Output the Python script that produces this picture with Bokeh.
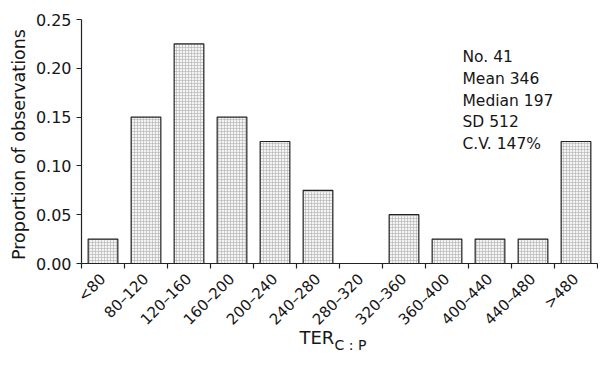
import math
from bokeh.plotting import figure
from bokeh.models import Range1d, FixedTicker, NumeralTickFormatter, Label, ColumnDataSource
from bokeh.embed import file_html
from bokeh.resources import INLINE

categories = ["<80", "80\u2013120", "120\u2013160", "160\u2013200", "200\u2013240", "240\u2013280",
              "280\u2013320", "320\u2013360", "360\u2013400", "400\u2013440", "440\u2013480", ">480"]
proportions = [0.025, 0.15, 0.225, 0.15, 0.125, 0.075, 0.0, 0.05, 0.025, 0.025, 0.025, 0.125]
y_ticks = [0.0, 0.05, 0.10, 0.15, 0.20, 0.25]
stats_lines = ["No. 41", "Mean 346", "Median 197", "SD 512", "C.V. 147%"]

FONT = "DejaVu Sans"
INK = "#161616"
AXIS = "#222222"

n = len(categories)
centers = [i + 0.5 for i in range(n)]
bounds = list(range(n + 1))
Y_MAX = 0.25

# layout in pixels: the frame covers the whole canvas, axes are drawn at fixed data locations
W, H = 598, 351
AX_LEFT, AX_RIGHT = 81, 597      # x pixel of category 0 edge and category 12 edge
AX_TOP, AX_BOTTOM = 19, 263      # y pixel of 0.25 and 0.00
px_x = (AX_RIGHT - AX_LEFT) / n
px_y = (AX_BOTTOM - AX_TOP) / Y_MAX
x_start = -AX_LEFT / px_x
x_end = n + (W - AX_RIGHT) / px_x
y_end = Y_MAX + AX_TOP / px_y
y_start = -(H - AX_BOTTOM) / px_y

src = ColumnDataSource(dict(x=centers, top=proportions, cat=categories))

p = figure(width=W, height=H, output_backend="svg", toolbar_location=None,
           x_range=Range1d(x_start, x_end), y_range=Range1d(y_start, y_end),
           min_border=0)
p.outline_line_color = None
p.xgrid.grid_line_color = None
p.ygrid.grid_line_color = None
p.background_fill_color = "white"

p.vbar(x="x", top="top", width=0.69, bottom=0, source=src,
       fill_color="#f4f4f4", line_color=AXIS, line_width=1.2,
       hatch_pattern="+", hatch_scale=3, hatch_color="#b0b0b0", hatch_weight=0.6)

# y axis at x = 0
ya = p.yaxis[0]
ya.fixed_location = 0
ya.ticker = FixedTicker(ticks=y_ticks)
ya.formatter = NumeralTickFormatter(format="0.00")
ya.bounds = (0, Y_MAX)
ya.minor_tick_line_color = None
ya.major_tick_out = 5
ya.major_tick_in = 0
ya.axis_line_color = AXIS
ya.axis_line_width = 1.2
ya.major_tick_line_color = AXIS
ya.major_tick_line_width = 1.2
ya.major_label_text_font = FONT
ya.major_label_text_font_size = "16px"
ya.major_label_text_color = INK
ya.major_label_standoff = 5

# x axis at y = 0
xa = p.xaxis[0]
xa.fixed_location = 0
xa.bounds = (0, n)
xa.ticker = FixedTicker(ticks=centers, minor_ticks=bounds)
xa.major_label_overrides = {c: lab for c, lab in zip(centers, categories)}
xa.major_tick_line_color = None
xa.major_tick_out = 0
xa.major_tick_in = 0
xa.minor_tick_out = 5
xa.minor_tick_in = 0
xa.minor_tick_line_color = AXIS
xa.minor_tick_line_width = 1.2
xa.axis_line_color = AXIS
xa.axis_line_width = 1.2
xa.major_label_orientation = math.pi / 4
xa.major_label_text_font = FONT
xa.major_label_text_font_size = "15px"
xa.major_label_text_color = INK
xa.major_label_standoff = 8

# y axis title
p.add_layout(Label(x=0, y=Y_MAX / 2, x_offset=-63, y_offset=-3,
                   text="Proportion of observations", angle=math.pi / 2,
                   text_font=FONT, text_font_size="17.5px", text_color=INK,
                   text_baseline="alphabetic", text_align="center"))

# x axis title with subscript
p.add_layout(Label(x=n / 2, y=0, x_offset=-40, y_offset=-74,
                   text="TER", text_font=FONT, text_font_size="18px", text_color=INK,
                   text_baseline="alphabetic", text_align="left"))
p.add_layout(Label(x=n / 2, y=0, x_offset=-5, y_offset=-81,
                   text="C : P", text_font=FONT, text_font_size="14px", text_color=INK,
                   text_baseline="alphabetic", text_align="left"))

# stats block
for i, line in enumerate(stats_lines):
    p.add_layout(Label(x=n, y=Y_MAX, x_offset=-(AX_RIGHT - 462), y_offset=-(37.7 + i * 21.7),
                       text=line, text_font=FONT, text_font_size="15.5px", text_color=INK,
                       text_baseline="alphabetic", text_align="left"))

open("out.html", "w").write(file_html(p, INLINE))
